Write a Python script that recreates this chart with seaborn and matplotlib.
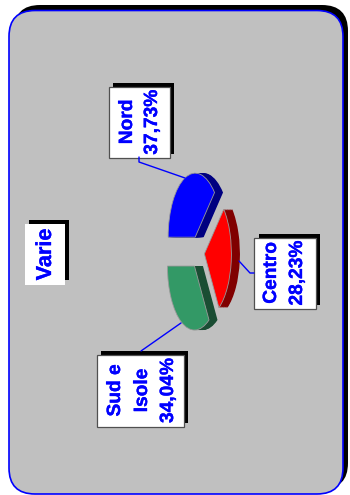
import numpy as np
import matplotlib
matplotlib.use('Agg')
import matplotlib.pyplot as plt
import matplotlib.patheffects as pe
from matplotlib.patches import FancyBboxPatch, Rectangle
import seaborn as sns

# Dati
regioni = ['Nord', 'Sud e\nIsole', 'Centro']
quote = [37.73, 34.04, 28.23]
etichette_quote = ['37,73%', '34,04%', '28,23%']
titolo = 'Varie'

sns.set_theme(style='white')
plt.rcParams['font.family'] = ['Liberation Sans', 'DejaVu Sans']

colori = sns.color_palette(['#0000FF', '#339966', '#FF0000'])
colori_scuri = sns.color_palette(['#000080', '#1A4D33', '#800000'])
BLU = '#0000FF'
tratto = [pe.withStroke(linewidth=0.25, foreground=BLU)]

L, H = 350, 495
fig = plt.figure(figsize=(L / 100, H / 100), dpi=100, facecolor='white')

# Livello di sfondo in coordinate pixel
sfondo = fig.add_axes([0, 0, 1, 1], zorder=0)
sfondo.set_xlim(0, L)
sfondo.set_ylim(H, 0)
sfondo.axis('off')


def pannello(x0, y0, x1, y1, fc, ec='none', lw=0):
    r = 26
    sfondo.add_patch(FancyBboxPatch((x0 + r, y0 + r), x1 - x0 - 2 * r, y1 - y0 - 2 * r,
                                    boxstyle='round,pad=%d,rounding_size=%d' % (r, r),
                                    fc=fc, ec=ec, lw=lw))


pannello(14, 5, 348, 489, 'black')
pannello(9, 10.5, 343, 494, '#C0C0C0', BLU, 1.2)

# Torta: asse orizzontale schiacciato (27 px per unità in x, 64 in y)
torta = fig.add_axes([0, 0, 1, 1], zorder=1)
for spost in np.linspace(8.5, 0.5, 12):
    torta.pie(quote, colors=colori_scuri, startangle=44.2, explode=[0.25] * 3,
              center=(spost / 27, 0), wedgeprops={'linewidth': 0})
torta.pie(quote, colors=colori, startangle=44.2, explode=[0.25] * 3,
          wedgeprops={'linewidth': 0.6, 'edgecolor': '#9A9A9A'})
torta.set_aspect('auto')
torta.set_xlim(-197.7 / 27, (L - 197.7) / 27)
torta.set_ylim(-(H - 252) / 64, 252 / 64)
torta.axis('off')

# Etichette e linee guida, sopra la torta
testi = fig.add_axes([0, 0, 1, 1], zorder=2)
testi.set_xlim(0, L)
testi.set_ylim(H, 0)
testi.axis('off')

# Linee guida
testi.plot([139, 139, 185], [157, 162, 178], color=BLU, lw=1)
testi.plot([239, 250, 254], [261, 273, 273], color=BLU, lw=1)
testi.plot([141, 181], [351, 323], color=BLU, lw=1)

riquadri = [(108.5, 87, 169.5, 158), (96.7, 355, 183.7, 427), (254, 238, 315.7, 309)]
x_righe = [[127.5, 152.5], [115.5, 142.5, 168.5], [271.5, 297.5]]
for i in range(len(regioni)):
    x0, y0, x1, y1 = riquadri[i]
    testi.add_patch(Rectangle((x0 + 4.5, y0 - 4.5), x1 - x0, y1 - y0, fc='black', ec='none'))
    testi.add_patch(Rectangle((x0, y0), x1 - x0, y1 - y0, fc='white', ec='#505050', lw=0.9))
    righe = regioni[i].split('\n') + [etichette_quote[i]]
    for x, riga in zip(x_righe[i], righe):
        testi.text(x, (y0 + y1) / 2 - 0.5, riga, rotation=90, ha='center', va='center',
                   color=BLU, fontsize=13.8, fontweight='bold', path_effects=tratto)

# Titolo
testi.add_patch(Rectangle((29, 220), 40, 60, fc='black', ec='none'))
testi.add_patch(Rectangle((25, 224), 40, 61, fc='white', ec='none'))
testi.text(45.5, 254.5, titolo, rotation=90, ha='center', va='center',
           color=BLU, fontsize=15.6, fontweight='bold', path_effects=tratto)

fig.savefig('out.png', dpi=100)
